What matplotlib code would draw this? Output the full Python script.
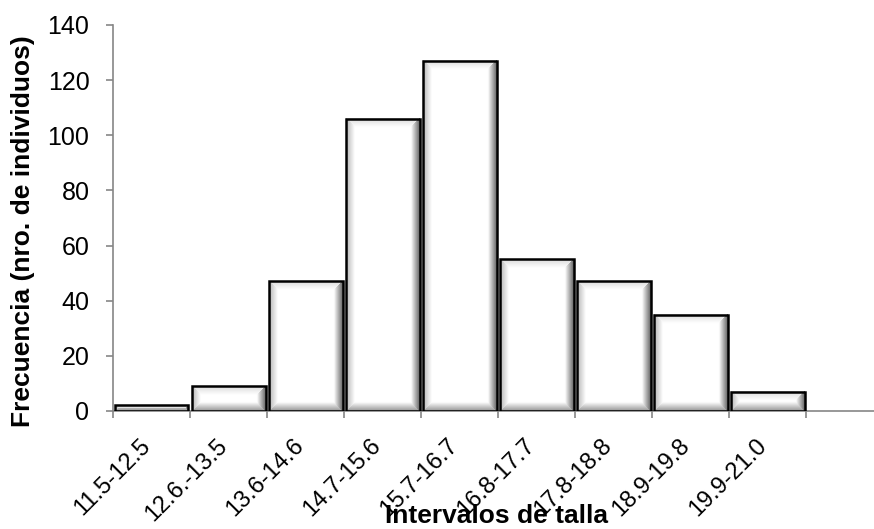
import numpy as np
import matplotlib
matplotlib.use('Agg')
import matplotlib.pyplot as plt
from matplotlib.transforms import ScaledTranslation

# datos
intervalos = ['11.5-12.5', '12.6.-13.5', '13.6-14.6', '14.7-15.6', '15.7-16.7',
              '16.8-17.7', '17.8-18.8', '18.9-19.8', '19.9-21.0']
frecuencia = [2, 9, 47, 106, 127, 55, 47, 35, 7]
y_ticks = [0, 20, 40, 60, 80, 100, 120, 140]

plt.rcParams['font.family'] = ['Liberation Sans', 'DejaVu Sans']
GRIS = '#868686'


def bevel(w, h, b=9):
    # sombreado tipo "bisel" de excel: caras izquierda, derecha, arriba, abajo
    w = max(int(round(w)), 1)
    h = max(int(round(h)), 1)
    jj, ii = np.meshgrid(np.arange(w) + 0.5, np.arange(h) + 0.5)
    d = np.stack([jj, w - jj, ii, h - ii])
    depth = np.array([0.30, 0.62, 0.15, 0.42])
    cara = np.argmin(d, axis=0)
    dmin = np.min(d, axis=0)
    return 1 - depth[cara] * np.clip(1 - dmin / b, 0, 1)


fig = plt.figure(figsize=(8.74, 5.29), dpi=100)
ax = fig.add_axes([113 / 874, 118 / 529, 761 / 874, 386 / 529])

x = np.arange(len(frecuencia))
bars = ax.bar(x, frecuencia, width=0.96, facecolor='none', edgecolor='black',
              linewidth=1.8, zorder=3)
ax.set_xlim(-0.5, 9.38)
ax.set_ylim(0, 140)

# relleno degradado de cada barra
for b in bars:
    x0, w, h = b.get_x(), b.get_width(), b.get_height()
    p0 = ax.transData.transform((x0, 0))
    p1 = ax.transData.transform((x0 + w, h))
    img = bevel(p1[0] - p0[0], p1[1] - p0[1])
    ax.imshow(img, cmap='gray', vmin=0, vmax=1, extent=(x0, x0 + w, 0, h),
              aspect='auto', interpolation='bilinear', zorder=2)
ax.set_xlim(-0.5, 9.38)
ax.set_ylim(0, 140)

ax.set_yticks(y_ticks)
ax.set_yticklabels([str(v) for v in y_ticks], fontsize=18)
ax.tick_params(axis='y', length=5, width=1.2, color=GRIS, pad=12)

ax.set_xticks(np.arange(len(frecuencia) + 1) - 0.5)
ax.set_xticklabels([])
ax.tick_params(axis='x', which='major', length=5, width=1.2, color=GRIS)
ax.set_xticks(x, minor=True)
ax.set_xticklabels(intervalos, minor=True, rotation=45, ha='right', fontsize=17)
ax.tick_params(axis='x', which='minor', length=0, pad=17)
for lbl in ax.get_xticklabels(minor=True):
    lbl.set_transform(lbl.get_transform() + ScaledTranslation(3 / 100, 0, fig.dpi_scale_trans))

for s in ['top', 'right']:
    ax.spines[s].set_visible(False)
for s in ['left', 'bottom']:
    ax.spines[s].set_color(GRIS)
    ax.spines[s].set_linewidth(1.2)

fig.text(23 / 874, 1 - 231 / 529, 'Frecuencia (nro. de individuos)', rotation=90,
         fontsize=19, fontweight='bold', ha='center', va='center')
fig.text(496.5 / 874, 1 / 529, 'Intervalos de talla', fontsize=19, fontweight='bold',
         ha='center', va='bottom')

fig.savefig('out.png', dpi=100)
